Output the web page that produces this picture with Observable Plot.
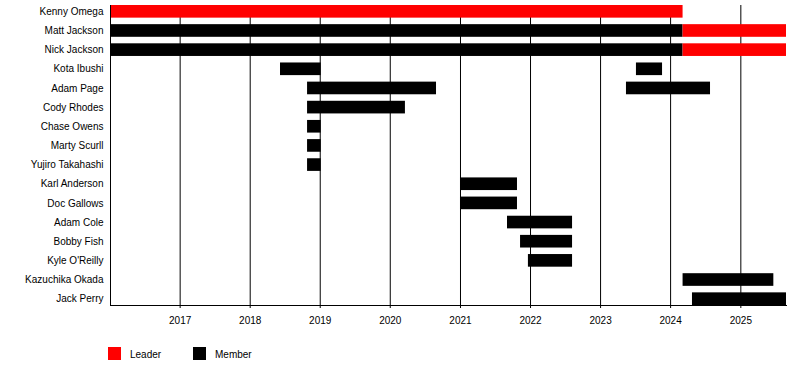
<!DOCTYPE html>
<html>
<head>
<meta charset="utf-8">
<script src="https://cdn.jsdelivr.net/npm/d3@7"></script>
<script src="https://cdn.jsdelivr.net/npm/@observablehq/plot@0.6"></script>
<style>
  html, body { margin: 0; padding: 0; background: #fff; }
  body { width: 800px; height: 365px; position: relative; font-family: "Liberation Sans", Arial, sans-serif; }
  #legend { position: absolute; left: 0; top: 347px; width: 800px; height: 14px; font-size: 10px; color: #000; }
  .sw { position: absolute; top: 0; width: 13px; height: 13px; }
  .lb { position: absolute; top: 1px; line-height: 14px; }
</style>
</head>
<body>
<div id="chart"></div>
<div id="legend"></div>
<script>
// Row order (top to bottom)
const members = ["Kenny Omega", "Matt Jackson", "Nick Jackson", "Kota Ibushi", "Adam Page",
  "Cody Rhodes", "Chase Owens", "Marty Scurll", "Yujiro Takahashi", "Karl Anderson",
  "Doc Gallows", "Adam Cole", "Bobby Fish", "Kyle O'Reilly", "Kazuchika Okada", "Jack Perry"];

// Segments (one per bar)
const segName = ["Kenny Omega", "Matt Jackson", "Matt Jackson", "Nick Jackson", "Nick Jackson",
  "Kota Ibushi", "Kota Ibushi", "Adam Page", "Adam Page", "Cody Rhodes", "Chase Owens",
  "Marty Scurll", "Yujiro Takahashi", "Karl Anderson", "Doc Gallows", "Adam Cole",
  "Bobby Fish", "Kyle O'Reilly", "Kazuchika Okada", "Jack Perry"];
const segStart = ["2016-01-04", "2016-01-04", "2024-03-06", "2016-01-04", "2024-03-06",
  "2018-06-08", "2023-07-07", "2018-10-27", "2023-05-16", "2018-10-27", "2018-10-27",
  "2018-10-27", "2018-10-27", "2021-01-01", "2021-01-01", "2021-09-03",
  "2021-11-10", "2021-12-21", "2024-03-06", "2024-04-24"];
const segEnd = ["2024-03-06", "2024-03-06", "2025-08-27", "2024-03-06", "2025-08-27",
  "2019-01-06", "2023-11-20", "2020-08-29", "2024-07-27", "2020-03-20", "2019-01-06",
  "2019-01-06", "2019-01-06", "2021-10-25", "2021-10-25", "2022-08-08",
  "2022-08-08", "2022-08-08", "2025-06-22", "2025-08-27"];
const segRole = ["Leader", "Member", "Leader", "Member", "Leader",
  "Member", "Member", "Member", "Member", "Member", "Member",
  "Member", "Member", "Member", "Member", "Member",
  "Member", "Member", "Member", "Member"];

// Legend / colours
const roles = ["Leader", "Member"];
const roleColors = ["#ff0000", "#000000"];

// Time span and year ticks
const periodStart = "2016-01-04";
const periodEnd = "2025-08-27";
const tickYears = [2017, 2018, 2019, 2020, 2021, 2022, 2023, 2024, 2025];

const parse = d3.utcParse("%Y-%m-%d");
const data = segName.map((n, i) => ({
  name: n, start: parse(segStart[i]), end: parse(segEnd[i]), role: segRole[i]
}));
const ticks = tickYears.map(y => new Date(Date.UTC(y, 0, 1)));

const chart = Plot.plot({
  width: 800,
  height: 330,
  marginLeft: 110,
  marginRight: 14,
  marginTop: 5,
  marginBottom: 25,
  style: { fontFamily: "'Liberation Sans', Arial, sans-serif", fontSize: "10px", color: "#000", background: "#fff" },
  x: { type: "utc", domain: [parse(periodStart), parse(periodEnd)], label: null },
  y: { type: "band", domain: members, paddingInner: 0.34, paddingOuter: 0, round: false, label: null },
  color: { domain: roles, range: roleColors },
  marks: [
    Plot.gridX(ticks, { stroke: "#000", strokeOpacity: 1, strokeWidth: 1 }),
    Plot.barX(data, { y: "name", x1: "start", x2: "end", fill: "role" }),
    Plot.frame({ anchor: "bottom", stroke: "#000" }),
    Plot.frame({ anchor: "left", stroke: "#000" }),
    Plot.axisX({ ticks: ticks, tickFormat: d3.utcFormat("%Y"), tickSize: 3, tickPadding: 8, label: null }),
    Plot.axisY({ tickSize: 0, tickPadding: 7, label: null })
  ]
});
document.getElementById("chart").appendChild(chart);

// Legend (swatches from the same colour scale)
const legend = document.getElementById("legend");
const swX = [108, 193];
roles.forEach((r, i) => {
  const sw = document.createElement("div");
  sw.className = "sw";
  sw.style.left = swX[i] + "px";
  sw.style.background = chart.scale("color").apply(r);
  legend.appendChild(sw);
  const lb = document.createElement("div");
  lb.className = "lb";
  lb.style.left = (swX[i] + 22) + "px";
  lb.textContent = r;
  legend.appendChild(lb);
});
</script>
</body>
</html>
